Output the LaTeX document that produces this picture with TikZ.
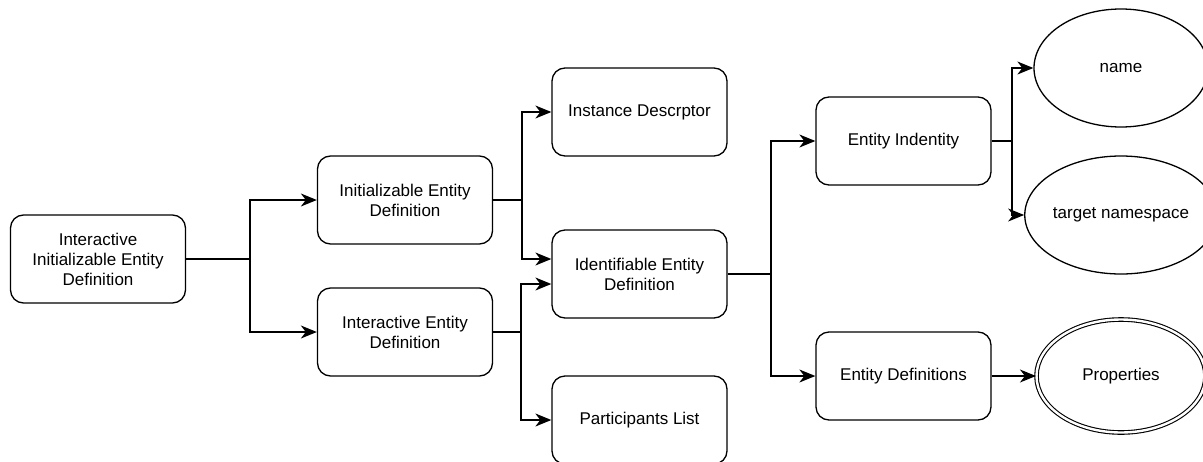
\documentclass[tikz,border=0pt]{standalone}
\usepackage{fontspec}
\setmainfont{Liberation Sans}
\usetikzlibrary{shapes.geometric,arrows.meta}
\begin{document}
\begin{tikzpicture}[x=1pt,y=-1pt,
  every node/.style={font=\fontsize{17}{20}\selectfont, align=center, inner sep=0pt},
  box/.style={draw, line width=1.3pt, rounded corners=13pt, minimum width=175pt, minimum height=88pt},
  oval/.style={draw, line width=1.3pt, ellipse, minimum width=174pt, minimum height=118pt},
  doubleoval/.style={draw, line width=1.1pt, double, double distance=2.4pt, ellipse, minimum width=169pt, minimum height=113pt},
  link/.style={line width=1.4pt},
  arr/.style={link, -{Stealth[length=16pt, width=13pt, inset=5pt]}}]
\useasboundingbox (0,0) rectangle (1203,461);

% boxes
\node[box] (iied) at (98,259) {Interactive\\Initializable Entity\\Definition};
\node[box] (ied)  at (405,200)   {Initializable Entity\\Definition};
\node[box] (ited) at (405,332)   {Interactive Entity\\Definition};
\node[box] (inst) at (639.5,112) {Instance Descrptor};
\node[box] (ident) at (639.5,274) {Identifiable Entity\\Definition};
\node[box] (part) at (639.5,420) {Participants List};
\node[box] (eid)  at (903.5,141) {Entity Indentity};
\node[box] (edef) at (903.5,376) {Entity Definitions};

% ellipses
\node[oval] (name) at (1121,68) {name};
\node[oval] (tns)  at (1121,215) {target namespace};
\node[doubleoval] (props) at (1121,376) {Properties};

% junction points
\coordinate (j1) at (250,259);
\coordinate (j2) at (522,200);
\coordinate (j3) at (521,332);
\coordinate (j4) at (771,274);
\coordinate (j5) at (1012,141);

% connectors
\draw[link] (iied.east) -- (j1);
\draw[arr] (j1) |- (ied.west);
\draw[arr] (j1) |- (ited.west);

\draw[link] (ied.east) -- (j2);
\draw[arr] (j2) |- (inst.west);
\draw[arr] (j2) |- ([yshift=15pt]ident.west);

\draw[link] (ited.east) -- (j3);
\draw[arr] (j3) |- ([yshift=-10pt]ident.west);
\draw[arr] (j3) |- (part.west);

\draw[link] (ident.east) -- (j4);
\draw[arr] (j4) |- (eid.west);
\draw[arr] (j4) |- (edef.west);

\draw[link] (eid.east) -- (j5);
\draw[arr] (j5) |- (name.west);
\draw[arr] (j5) |- (tns.west);

\draw[arr] (edef.east) -- (props.west);
\end{tikzpicture}
\end{document}
